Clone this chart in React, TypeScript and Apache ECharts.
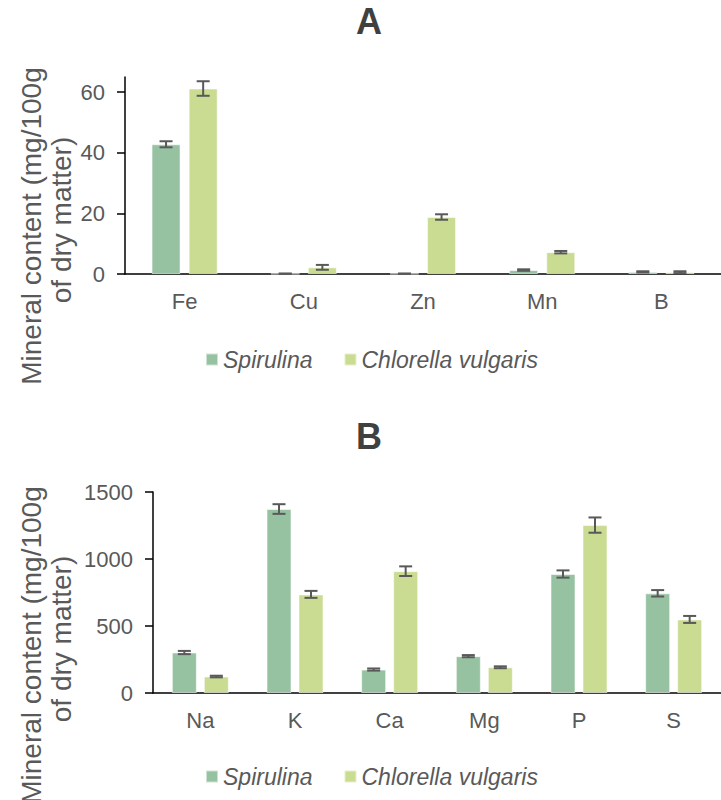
import React, { useEffect, useRef } from "react";
import * as echarts from "echarts";

const categoriesA = ["Fe", "Cu", "Zn", "Mn", "B"];
const spirulinaA = [42.8, 0.1, 0.1, 1.3, 0.7];
const spirulinaErrA = [1.0, 0.05, 0.05, 0.25, 0.2];
const chlorellaA = [61.2, 2.2, 18.8, 7.2, 0.6];
const chlorellaErrA = [2.4, 0.8, 0.9, 0.4, 0.3];
const yTicksA = [0, 20, 40, 60];

const categoriesB = ["Na", "K", "Ca", "Mg", "P", "S"];
const spirulinaB = [302, 1373, 175, 275, 888, 744];
const spirulinaErrB = [12, 36, 8, 8, 27, 24];
const chlorellaB = [123, 736, 909, 192, 1253, 549];
const chlorellaErrB = [6, 26, 36, 7, 57, 26];
const yTicksB = [0, 500, 1000, 1500];

const seriesNames = ["Spirulina", "Chlorella vulgaris"];
const axisTitle1 = "Mineral content (mg/100g";
const axisTitle2 = "of dry matter)";

const COL_S = "#96C2A2";
const COL_C = "#CADB92";
const TXT = "#595959";
const FONT = "Liberation Sans, Arial, sans-serif";

function errorRenderer(offset: number) {
  return (params: any, api: any) => {
    const i = api.value(0);
    const v = api.value(1);
    const e = api.value(2);
    const top = api.coord([i, v + e]);
    const bot = api.coord([i, v - e]);
    const x = top[0] + offset;
    const hw = 6.5;
    const style = { stroke: "#595959", lineWidth: 2 };
    return {
      type: "group",
      children: [
        { type: "line", shape: { x1: x, y1: top[1], x2: x, y2: bot[1] }, style },
        { type: "line", shape: { x1: x - hw, y1: top[1], x2: x + hw, y2: top[1] }, style },
        { type: "line", shape: { x1: x - hw, y1: bot[1], x2: x + hw, y2: bot[1] }, style },
      ],
    };
  };
}

export default function App() {
  const ref = useRef<HTMLDivElement>(null);
  useEffect(() => {
    if (!ref.current) return;
    const chart = echarts.init(ref.current, null, { renderer: "svg" });
    const barWA = 29;
    const barWB = 25;
    const gapRatio = 0.28;
    const offA = (barWA + barWA * gapRatio) / 2;
    const offB = (barWB + barWB * gapRatio) / 2;

    const xAxisCommon = (data: string[], gi: number) => ({
      type: "category",
      gridIndex: gi,
      data,
      axisLine: { lineStyle: { color: "#000", width: 1.5 } },
      axisTick: { show: false },
      axisLabel: { color: TXT, fontSize: 22, fontFamily: FONT, margin: 16 },
    });
    const yAxisCommon = (gi: number, max: number, ticks: number[]) => ({
      type: "value",
      gridIndex: gi,
      min: 0,
      max,
      splitLine: { show: false },
      axisLine: { show: true, lineStyle: { color: "#000", width: 1.5 } },
      axisTick: { show: true, length: 8, lineStyle: { color: "#000", width: 1.5 }, customValues: ticks },
      axisLabel: {
        color: TXT, fontSize: 22, fontFamily: FONT, margin: 20, customValues: ticks,
        formatter: (v: number) => String(v),
      },
    });

    const errData = (vals: number[], errs: number[]) => vals.map((v, i) => [i, v, errs[i]]);

    const legendCommon = (top: number) => ({
      top,
      left: 200,
      data: seriesNames,
      icon: "rect",
      itemWidth: 12,
      itemHeight: 12,
      itemGap: 31,
      textStyle: { color: TXT, fontSize: 23, fontStyle: "italic", fontFamily: FONT },
    });

    const titleText = (x: number, y: number, t: string) => ({
      type: "text",
      x,
      y,
      style: { text: t, fill: "#404040", font: `bold 36px ${FONT}`, textAlign: "center", textVerticalAlign: "middle" },
    });
    const axisText = (x: number, y: number, t: string) => ({
      type: "text",
      x,
      y,
      rotation: Math.PI / 2,
      style: { text: t, fill: TXT, font: `28px ${FONT}`, textAlign: "center", textVerticalAlign: "middle" },
    });

    chart.setOption({
      animation: false,
      legend: [legendCommon(343), legendCommon(760)],
      grid: [
        { left: 125, right: -11, top: 77, bottom: 800 - 274 },
        { left: 153, right: -8, top: 492, bottom: 800 - 693 },
      ],
      xAxis: [xAxisCommon(categoriesA, 0), xAxisCommon(categoriesB, 1)],
      yAxis: [yAxisCommon(0, 65, yTicksA), yAxisCommon(1, 1500, yTicksB)],
      graphic: [
        titleText(369, 21, "A"),
        titleText(369, 436, "B"),
        axisText(31, 226, axisTitle1),
        axisText(61, 220, axisTitle2),
        axisText(31, 645, axisTitle1),
        axisText(61, 639, axisTitle2),
      ],
      series: [
        {
          name: seriesNames[0], type: "bar", xAxisIndex: 0, yAxisIndex: 0, data: spirulinaA,
          barWidth: barWA, barGap: "28%",
          itemStyle: { color: COL_S, borderColor: "rgba(255,255,255,0.55)", borderWidth: 1 },
        },
        {
          name: seriesNames[1], type: "bar", xAxisIndex: 0, yAxisIndex: 0, data: chlorellaA,
          barWidth: barWA, barGap: "28%",
          itemStyle: { color: COL_C, borderColor: "rgba(255,255,255,0.55)", borderWidth: 1 },
        },
        {
          name: seriesNames[0], type: "bar", xAxisIndex: 1, yAxisIndex: 1, data: spirulinaB,
          barWidth: barWB, barGap: "28%",
          itemStyle: { color: COL_S, borderColor: "rgba(255,255,255,0.55)", borderWidth: 1 },
        },
        {
          name: seriesNames[1], type: "bar", xAxisIndex: 1, yAxisIndex: 1, data: chlorellaB,
          barWidth: barWB, barGap: "28%",
          itemStyle: { color: COL_C, borderColor: "rgba(255,255,255,0.55)", borderWidth: 1 },
        },
        { type: "custom", xAxisIndex: 0, yAxisIndex: 0, data: errData(spirulinaA, spirulinaErrA), renderItem: errorRenderer(-offA), clip: false, z: 5, silent: true },
        { type: "custom", xAxisIndex: 0, yAxisIndex: 0, data: errData(chlorellaA, chlorellaErrA), renderItem: errorRenderer(offA), clip: false, z: 5, silent: true },
        { type: "custom", xAxisIndex: 1, yAxisIndex: 1, data: errData(spirulinaB, spirulinaErrB), renderItem: errorRenderer(-offB), clip: false, z: 5, silent: true },
        { type: "custom", xAxisIndex: 1, yAxisIndex: 1, data: errData(chlorellaB, chlorellaErrB), renderItem: errorRenderer(offB), clip: false, z: 5, silent: true },
      ],
    });
    return () => chart.dispose();
  }, []);
  return (
    <div
      ref={ref}
      style={{ position: "fixed", left: 0, top: 0, width: 721, height: 800, background: "#fff" }}
    />
  );
}
